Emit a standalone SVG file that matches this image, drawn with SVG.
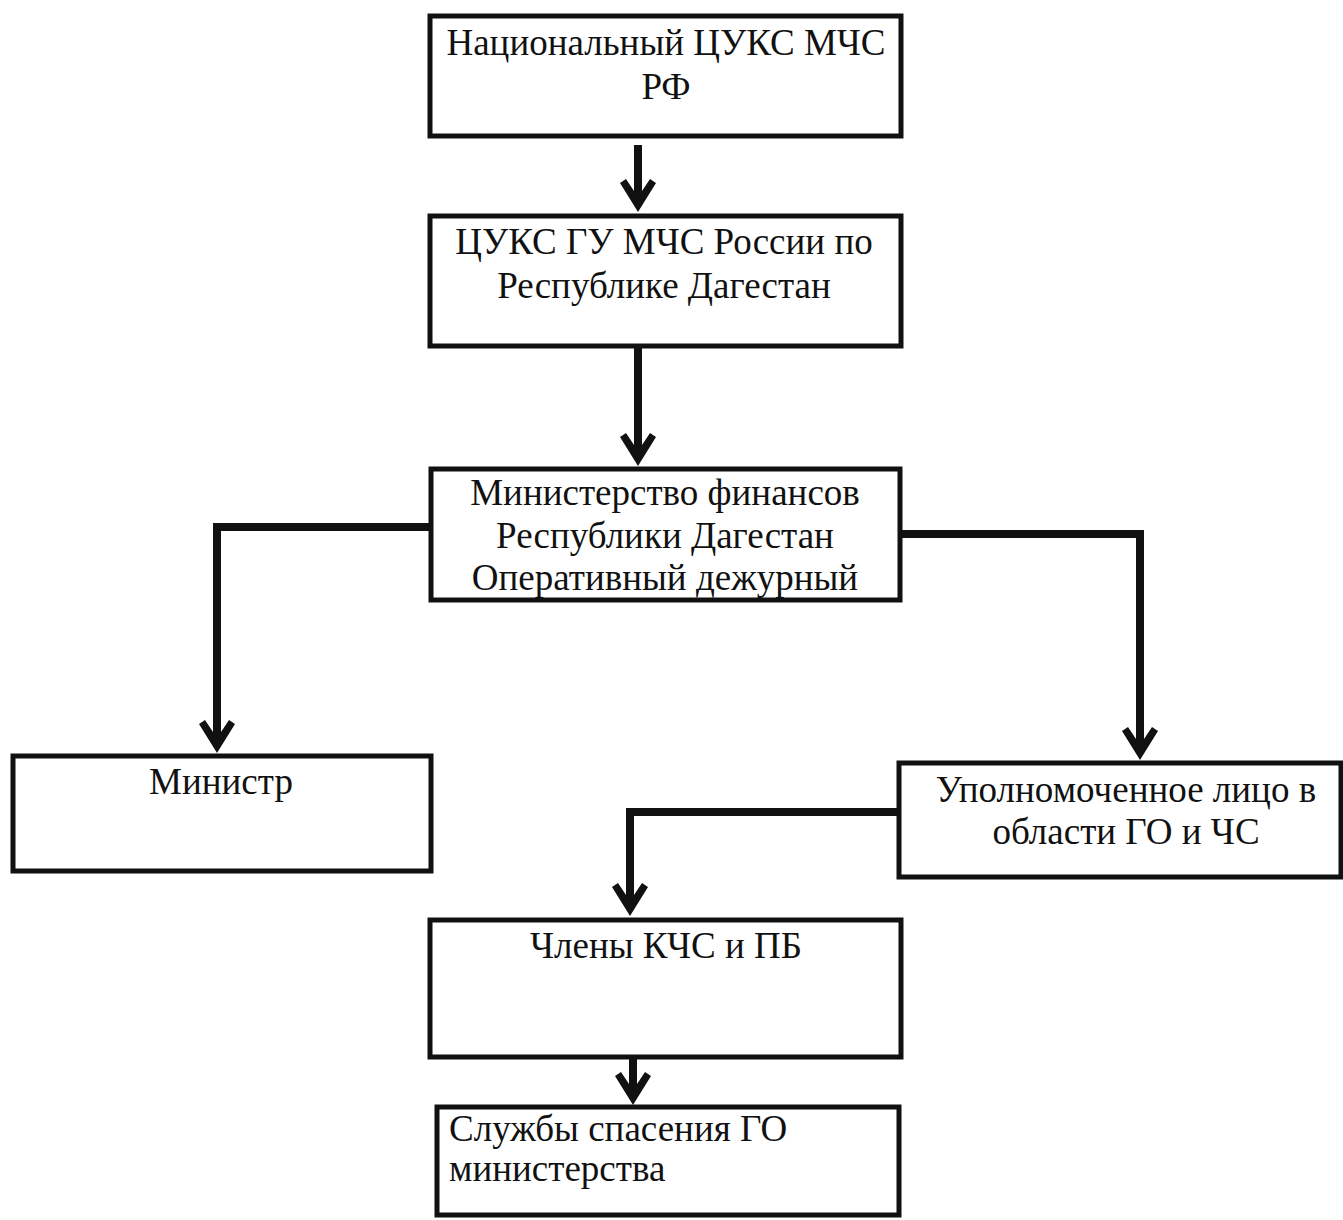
<svg xmlns="http://www.w3.org/2000/svg" width="1343" height="1220" viewBox="0 0 1343 1220">
<style>
.box{fill:#fff;stroke:#111;stroke-width:5}
.conn{fill:none;stroke:#111;stroke-width:8;stroke-linejoin:miter}
text{font-family:"Liberation Serif","Times New Roman","DejaVu Serif",serif;font-size:37px;fill:#111}
.c{text-anchor:middle}
</style>
<defs>
<marker id="ah" markerUnits="userSpaceOnUse" markerWidth="40" markerHeight="44" viewBox="-34 -22 40 44" refX="-10" refY="0" orient="auto" overflow="visible">
<path d="M0,0 L-29,-18 L-33,-12 L-15,0 L-33,12 L-29,18 Z" fill="#111"/>
</marker>
</defs>
<rect width="1343" height="1220" fill="#fff"/>
<g id="connectors">
<path class="conn" d="M638,145 V202" marker-end="url(#ah)"/>
<path class="conn" d="M638,347 V456" marker-end="url(#ah)"/>
<path class="conn" d="M430,527 H217 V743" marker-end="url(#ah)"/>
<path class="conn" d="M902,534 H1140 V750" marker-end="url(#ah)"/>
<path class="conn" d="M898,812 H630 V906" marker-end="url(#ah)"/>
<path class="conn" d="M633,1058 V1095" marker-end="url(#ah)"/>
</g>
<g id="n1">
<rect class="box" x="430" y="16" width="471" height="120"/>
<text class="c" x="666" y="55">Национальный ЦУКС МЧС</text>
<text class="c" x="666" y="99">РФ</text>
</g>
<g id="n2">
<rect class="box" x="430" y="216" width="471" height="130"/>
<text class="c" x="664" y="254">ЦУКС ГУ МЧС России по</text>
<text class="c" x="664" y="298">Республике Дагестан</text>
</g>
<g id="n3">
<rect class="box" x="431" y="469" width="469" height="131"/>
<text class="c" x="665" y="505">Министерство финансов</text>
<text class="c" x="665" y="548">Республики Дагестан</text>
<text class="c" x="665" y="590">Оперативный дежурный</text>
</g>
<g id="n4">
<rect class="box" x="13" y="756" width="418" height="115"/>
<text class="c" x="221" y="794">Министр</text>
</g>
<g id="n5">
<rect class="box" x="899" y="763" width="442" height="114"/>
<text class="c" x="1126" y="802">Уполномоченное лицо в</text>
<text class="c" x="1126" y="844">области ГО и ЧС</text>
</g>
<g id="n6">
<rect class="box" x="430" y="920" width="471" height="137"/>
<text class="c" x="666" y="958">Члены КЧС и ПБ</text>
</g>
<g id="n7">
<rect class="box" x="437" y="1107" width="462" height="108"/>
<text x="449" y="1141">Службы спасения ГО</text>
<text x="449" y="1181">министерства</text>
</g>
</svg>
